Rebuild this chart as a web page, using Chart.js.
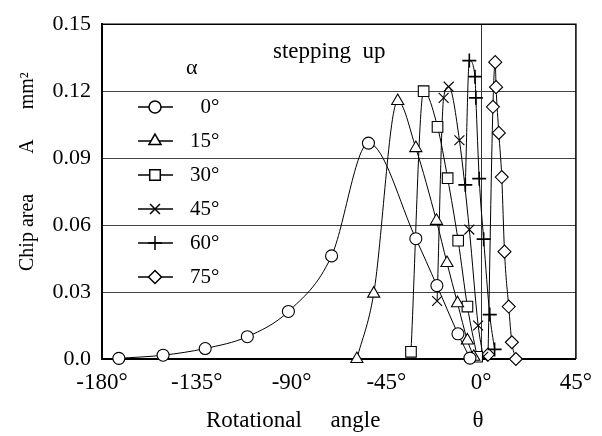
<!DOCTYPE html>
<html>
<head>
<meta charset="utf-8">
<script src="https://cdn.jsdelivr.net/npm/chart.js@4.4.0/dist/chart.umd.min.js"></script>
<style>
  html, body { margin: 0; padding: 0; background: #fff; }
</style>
</head>
<body>
<canvas id="chart" width="602" height="436"></canvas>
<script>
// chip area vs rotational angle, stepping up, one series per alpha
const seriesLabels = ["0°", "15°", "30°", "45°", "60°", "75°"];
const xTickValues = [-180, -135, -90, -45, 0, 45];
const yTickValues = [0, 0.03, 0.06, 0.09, 0.12, 0.15];

const theta0 = [-172, -151, -131, -111, -91.5, -71, -53.5, -31, -21, -11, -5.3];
const area0 = [0.0003, 0.0017, 0.0047, 0.010, 0.0213, 0.0462, 0.0967, 0.0539, 0.0329, 0.0113, 0.0004];
const theta15 = [-59, -51, -39.6, -31, -21.2, -16.2, -11.2, -6.5, -3.5];
const area15 = [0.0, 0.0293, 0.1156, 0.0945, 0.0619, 0.043, 0.025, 0.0083, 0.001];
const theta30 = [-33.3, -27.3, -20.7, -15.9, -10.9, -6.5, -1.9];
const area30 = [0.0032, 0.120, 0.104, 0.081, 0.053, 0.0235, 0.001];
const theta45 = [-20.9, -17.8, -15.4, -10.3, -5.6, -1.4, 1.0];
const area45 = [0.026, 0.117, 0.122, 0.098, 0.058, 0.015, 0.001];
const theta60 = [-7.5, -5.6, -2.9, -2.5, -0.9, 1.2, 4.1, 6.4];
const area60 = [0.078, 0.1337, 0.1265, 0.117, 0.0808, 0.0537, 0.0199, 0.0043];
const theta75 = [3.3, 5.6, 6.7, 7.1, 8.4, 9.8, 11.1, 13.1, 14.6, 16.5];
const area75 = [0.002, 0.113, 0.133, 0.1218, 0.1013, 0.0815, 0.0481, 0.0235, 0.0075, 0.0];

const thetas = [theta0, theta15, theta30, theta45, theta60, theta75];
const areas = [area0, area15, area30, area45, area60, area75];
const markerStyles = ["circle", "triangle", "rect", "crossRot", "cross", "rectRot"];
const markerSizes = [6, 7, 7.5, 7, 7, 6.5];

Chart.defaults.font.family = "'Liberation Serif', 'Times New Roman', serif";
Chart.defaults.color = "#000";

function toPoints(xs, ys) {
  return xs.map((x, i) => ({ x: x, y: ys[i] }));
}

const datasets = seriesLabels.map((label, i) => ({
  label: label,
  data: toPoints(thetas[i], areas[i]),
  showLine: true,
  borderColor: "#000",
  borderWidth: 1,
  backgroundColor: "#fff",
  pointStyle: markerStyles[i],
  pointRadius: markerSizes[i],
  pointBackgroundColor: "#fff",
  pointBorderColor: "#000",
  pointBorderWidth: i === 4 ? 1.6 : 1.1,
  cubicInterpolationMode: "monotone",
  clip: false,
}));

// top and right edge of the plot box
const framePlugin = {
  id: "frame",
  beforeDatasetsDraw(chart) {
    const { ctx, chartArea: a } = chart;
    ctx.save();
    ctx.strokeStyle = "#000";
    ctx.lineWidth = 1.5;
    ctx.beginPath();
    ctx.moveTo(a.left, a.top);
    ctx.lineTo(a.right, a.top);
    ctx.lineTo(a.right, a.bottom);
    ctx.stroke();
    ctx.restore();
  },
};

// legend inside the plot (line + marker), plus the "alpha" and "stepping up" notes
const legendPlugin = {
  id: "alphaLegend",
  afterDraw(chart) {
    const ctx = chart.ctx;
    ctx.save();
    ctx.textBaseline = "middle";
    ctx.textAlign = "left";
    ctx.fillStyle = "#000";
    ctx.font = "22px 'Liberation Serif'";
    ctx.fillText("α", 186, 68);
    ctx.font = "23px 'Liberation Serif'";
    ctx.fillText("stepping  up", 273, 52);

    chart.data.datasets.forEach((ds, i) => {
      const y = 107 + i * 34;
      ctx.strokeStyle = "#000";
      ctx.lineWidth = 1.5;
      ctx.beginPath();
      ctx.moveTo(138, y);
      ctx.lineTo(173, y);
      ctx.stroke();
      ctx.fillStyle = "#fff";
      Chart.helpers.drawPoint(ctx, {
        pointStyle: ds.pointStyle,
        radius: ds.pointRadius,
        rotation: 0,
        borderWidth: ds.pointBorderWidth,
      }, 155, y);
      ctx.fillStyle = "#000";
      ctx.font = "21px 'Liberation Serif'";
      const text = ds.label.length < 3 ? "\u2007" + ds.label : ds.label;
      ctx.fillText(text, 190, y);
    });
    ctx.restore();
  },
};

new Chart(document.getElementById("chart"), {
  type: "scatter",
  data: { datasets: datasets },
  options: {
    responsive: false,
    animation: false,
    layout: { padding: { top: 16, right: 18, left: 0, bottom: 0 } },
    plugins: {
      legend: { display: false },
      tooltip: { enabled: false },
    },
    scales: {
      x: {
        type: "linear",
        min: -180,
        max: 45,
        afterBuildTicks: (scale) => {
          scale.ticks = xTickValues.map((v) => ({ value: v }));
        },
        afterFit: (scale) => {
          scale.height = 77;
        },
        ticks: {
          font: { size: 23 },
          padding: 10,
          maxRotation: 0,
          autoSkip: false,
          callback: (v) => v + "°",
        },
        grid: {
          drawTicks: false,
          color: (c) => (c.tick && c.tick.value === 0 ? "#333" : "rgba(0,0,0,0)"),
          lineWidth: 1,
        },
        border: { color: "#000", width: 2 },
        title: {
          display: true,
          text: "  Rotational     angle                θ",
          font: { size: 23 },
          padding: { top: 0, bottom: 1 },
        },
      },
      y: {
        min: 0,
        max: 0.15,
        afterBuildTicks: (scale) => {
          scale.ticks = yTickValues.map((v) => ({ value: v }));
        },
        afterFit: (scale) => {
          scale.width = 102;
        },
        ticks: {
          font: { size: 22 },
          padding: 11,
          callback: (v) => (v === 0 ? "0.0" : v.toFixed(2)),
        },
        grid: {
          drawTicks: false,
          color: "#444",
          lineWidth: 1,
        },
        border: { color: "#000", width: 2 },
        title: {
          display: true,
          text: "        Chip area        A      mm²",
          font: { size: 20 },
          padding: { top: 16, bottom: 0 },
        },
      },
    },
  },
  plugins: [framePlugin, legendPlugin],
});
</script>
</body>
</html>
